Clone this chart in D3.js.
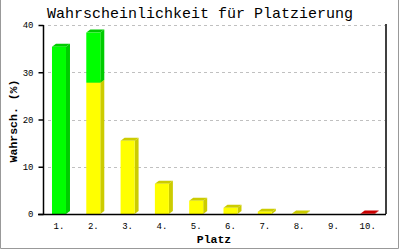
<!DOCTYPE html>
<html>
<head>
<meta charset="utf-8">
<script src="https://cdn.jsdelivr.net/npm/d3@7"></script>
<style>
  html, body { margin: 0; padding: 0; background: #fff; }
  svg { display: block; }
</style>
</head>
<body>
<svg id="chart" width="400" height="250"></svg>
<script>
// ---- data ----
const categories = ["1.", "2.", "3.", "4.", "5.", "6.", "7.", "8.", "9.", "10."];
const seriesYellow = [0, 27.8, 15.5, 6.4, 2.8, 1.3, 0.5, 0.1, 0, 0];
const seriesGreen  = [35.4, 10.6, 0, 0, 0, 0, 0, 0, 0, 0];
const seriesRed    = [0, 0, 0, 0, 0, 0, 0, 0, 0, 0.1];
const yTicks = [0, 10, 20, 30, 40];
const titleText = "Wahrscheinlichkeit für Platzierung";
const xTitle = "Platz";
const yTitle = "Wahrsch. (%)";

// ---- layout ----
const svg = d3.select("#chart");
const pLeft = 43, pRight = 386, pTop = 25, pBottom = 214;
const mono = "'Liberation Mono', 'DejaVu Sans Mono', monospace";

const x = d3.scaleBand().domain(categories).range([pLeft, pRight]).paddingInner(0.524).paddingOuter(0.262);
const y = d3.scaleLinear().domain([0, 40]).range([pBottom, pTop]);
const frontW = 14, depthX = 4, depthY = 3;

// frame
svg.append("path")
  .attr("d", "M0.5,0 V248.5 H398.5 V0")
  .attr("fill", "none").attr("stroke", "#999").attr("stroke-width", 1);

// grid
svg.append("g").selectAll("line").data(yTicks.filter(d => d > 0)).join("line")
  .attr("x1", pLeft + 5).attr("x2", pRight - 1)
  .attr("y1", d => Math.round(y(d)) + 0.5).attr("y2", d => Math.round(y(d)) + 0.5)
  .attr("stroke", "#c0c0c0").attr("stroke-dasharray", "3,3");

// stacked series
const stackData = categories.map((c, i) => ({ cat: c, yellow: seriesYellow[i], green: seriesGreen[i], red: seriesRed[i] }));
const stack = d3.stack().keys(["yellow", "green", "red"]);
const layers = stack(stackData);
const colors = {
  yellow: { front: "#ffff00", dark: "#cccc00" },
  green:  { front: "#00ff00", dark: "#00cc00" },
  red:    { front: "#ff0000", dark: "#cc0000" }
};

const barG = svg.append("g");
categories.forEach((c, i) => {
  layers.forEach(layer => {
    const seg = layer[i];
    if (seg[1] - seg[0] <= 0) return;
    const col = colors[layer.key];
    const x0 = x(c), x1 = x0 + frontW;
    const yTop = y(seg[1]), yBot = y(seg[0]);
    barG.append("path")
      .attr("d", `M${x1},${yBot} L${x1 + depthX},${yBot - depthY} L${x1 + depthX},${yTop - depthY} L${x1},${yTop} Z`)
      .attr("fill", col.dark);
    barG.append("path")
      .attr("d", `M${x0},${yTop} L${x0 + depthX},${yTop - depthY} L${x1 + depthX},${yTop - depthY} L${x1},${yTop} Z`)
      .attr("fill", col.dark);
    barG.append("rect")
      .attr("x", x0).attr("y", yTop).attr("width", frontW).attr("height", yBot - yTop)
      .attr("fill", col.front);
  });
});

// axes
const yAxis = d3.axisLeft(y).tickValues(yTicks).tickSize(5).tickPadding(5).tickFormat(d3.format("d"));
const gy = svg.append("g").attr("transform", `translate(${pLeft + 0.5},0)`).call(yAxis);
gy.select(".domain").attr("d", `M0,${pTop} V${pBottom}`).attr("stroke", "#000").attr("stroke-width", 1.5);
gy.selectAll(".tick line").attr("stroke", "#000").attr("stroke-width", 1.5);
gy.selectAll("text").attr("font-family", mono).attr("font-size", 9).attr("fill", "#000");

const xAxis = d3.axisBottom(x).tickSize(0).tickPadding(8);
const gx = svg.append("g").attr("transform", `translate(0,${pBottom + 0.5})`).call(xAxis);
gx.select(".domain").attr("d", `M${pLeft - 5},0 H${pRight}`).attr("stroke", "#000").attr("stroke-width", 1.5);
gx.selectAll(".tick").attr("transform", d => `translate(${x(d) + frontW / 2},0)`);
gx.selectAll("text").attr("font-family", mono).attr("font-size", 9).attr("fill", "#000");

// right axis line
svg.append("line").attr("x1", pRight).attr("x2", pRight).attr("y1", pTop - 1).attr("y2", pBottom)
  .attr("stroke", "#000").attr("stroke-width", 1.5);

// titles
svg.append("text").attr("x", 200).attr("y", 18).attr("text-anchor", "middle")
  .attr("font-family", mono).attr("font-size", 15).text(titleText);
svg.append("text").attr("x", 214).attr("y", 242.5).attr("text-anchor", "middle")
  .attr("font-family", mono).attr("font-size", 11.5).attr("font-weight", "bold").text(xTitle);
svg.append("text").attr("transform", "translate(16.5,121) rotate(-90)").attr("text-anchor", "middle")
  .attr("font-family", mono).attr("font-size", 11.5).attr("font-weight", "bold").text(yTitle);
</script>
</body>
</html>
